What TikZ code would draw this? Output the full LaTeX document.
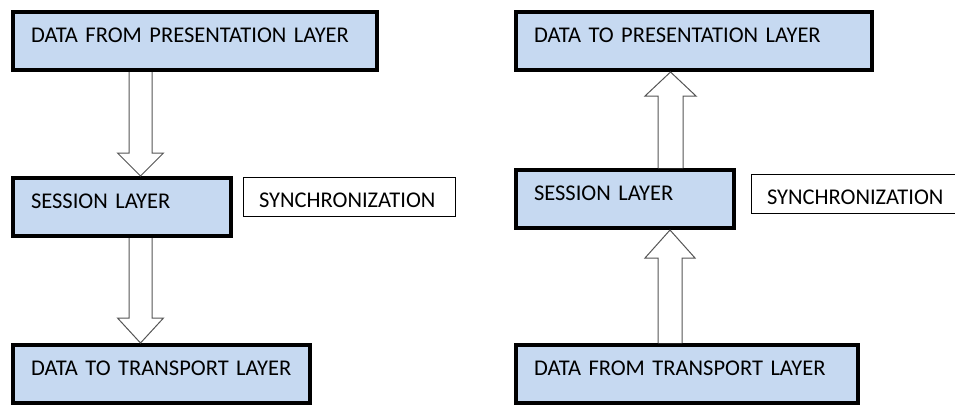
\documentclass[tikz,border=0pt]{standalone}
\usepackage{fontspec}
\setmainfont{Carlito}
\usepackage{xcolor}
\usepackage{tikz}
\usetikzlibrary{positioning}
\usetikzlibrary{calc}

\definecolor{layerblue}{RGB}{198,217,241}
\definecolor{arrowgray}{RGB}{85,85,85}

\tikzset{
    layer/.style={draw=black, line width=4pt, fill=layerblue, anchor=north west,
        inner xsep=18pt, inner ysep=16pt, text height=14.5pt, text depth=11.5pt,
        text width=#1, align=left, font=\fontsize{22.5}{26}\selectfont},
    note/.style={draw=black, line width=1pt, fill=white,
        inner xsep=15.5pt, inner ysep=0pt, text height=30pt, text depth=9pt,
        text width=181pt, align=left, font=\fontsize{22.5}{26}\selectfont},
    hollow/.style={draw=arrowgray, line width=1pt, fill=white}
}

% block arrow: x, shaft half width, head half width, head length, start, tip
\newcommand{\hollowarrow}[6]{%
    \draw[hollow] ($(#1,0 |- #5)+(-#2,0)$) -- ($(#1,0 |- #6)+(-#2,#4)$)
        -- ($(#1,0 |- #6)+(-#3,#4)$) -- (#1,0 |- #6)
        -- ($(#1,0 |- #6)+(#3,#4)$) -- ($(#1,0 |- #6)+(#2,#4)$)
        -- ($(#1,0 |- #5)+(#2,0)$);
}

\begin{document}
\begin{tikzpicture}[x=1pt, y=-1pt]
    \useasboundingbox (0,0) rectangle (955,405);
    \begin{scope}
        \node[layer=328pt] (fromPres) at (11,10) {DATA FROM PRESENTATION LAYER};
        \node[layer=182pt] (sessL) at (11,176) {SESSION LAYER};
        \node[note, right=10pt of sessL.north east, anchor=north west, yshift=-1pt] (syncL) {SYNCHRONIZATION};
        \node[layer=261pt] (toTrans) at (11,343) {DATA TO TRANSPORT LAYER};
        \hollowarrow{140.5}{11.5}{23}{-23}{fromPres.south}{sessL.north}
        \hollowarrow{140.5}{11.5}{23}{-25}{sessL.south}{toTrans.north}
    \end{scope}
    \begin{scope}
        \node[layer=320pt] (toPres) at (514,10) {DATA TO PRESENTATION LAYER};
        \node[layer=182pt] (sessR) at (514,168) {SESSION LAYER};
        \node[note, right=15pt of sessR.north east, anchor=north west, yshift=-6pt] (syncR) {SYNCHRONIZATION};
        \node[layer=306pt] (fromTrans) at (514,343) {DATA FROM TRANSPORT LAYER};
        \hollowarrow{670.5}{12.5}{25.5}{24}{sessR.north}{toPres.south}
        \hollowarrow{670}{12}{25}{28}{fromTrans.north}{sessR.south}
    \end{scope}
\end{tikzpicture}
\end{document}
